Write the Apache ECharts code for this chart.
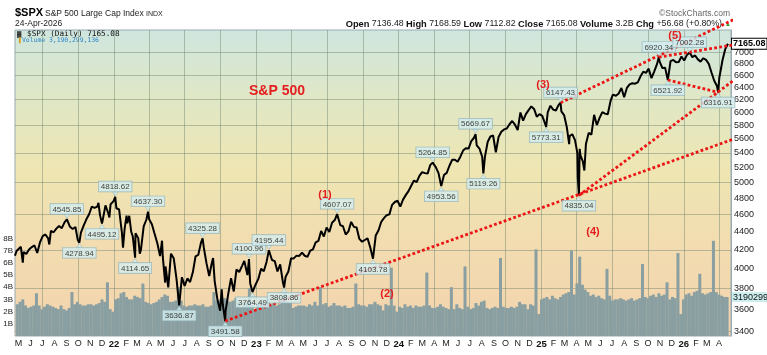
<!DOCTYPE html>
<html><head><meta charset="utf-8">
<script src="https://cdn.jsdelivr.net/npm/echarts@6/dist/echarts.min.js"></script>
<style>html,body{margin:0;padding:0;background:#fff}#c{width:767px;height:355px}</style>
</head><body><div id="c"></div><script>
// ---------- data ----------
const priceData = [
['2021-04-22',4135],['2021-04-26',4187],['2021-04-30',4181],['2021-05-07',4233],['2021-05-12',4063],['2021-05-14',4174],['2021-05-21',4156],['2021-05-28',4204],['2021-06-04',4230],['2021-06-11',4247],['2021-06-18',4166],['2021-06-25',4281],['2021-07-02',4352],['2021-07-09',4370],['2021-07-16',4327],['2021-07-19',4258],['2021-07-23',4411],['2021-07-30',4395],['2021-08-06',4437],['2021-08-13',4468],['2021-08-20',4442],['2021-08-27',4509],['2021-09-02',4545.85],['2021-09-10',4458],['2021-09-17',4433],['2021-09-24',4455],['2021-09-30',4307],['2021-10-04',4278.94],['2021-10-08',4391],['2021-10-15',4471],['2021-10-22',4545],['2021-10-29',4605],['2021-11-05',4697],['2021-11-12',4682],['2021-11-19',4698],['2021-11-22',4743],['2021-11-26',4595],['2021-12-01',4495.12],['2021-12-03',4538],['2021-12-10',4712],['2021-12-17',4620],['2021-12-20',4568],['2021-12-23',4725],['2021-12-31',4766],
['2022-01-04',4818.62],['2022-01-07',4677],['2022-01-14',4662],['2022-01-21',4398],['2022-01-24',4222],['2022-01-28',4432],['2022-02-02',4590],['2022-02-04',4500],['2022-02-09',4587],['2022-02-14',4401],['2022-02-18',4349],['2022-02-24',4114.65],['2022-02-25',4385],['2022-03-04',4329],['2022-03-08',4157],['2022-03-11',4204],['2022-03-18',4463],['2022-03-25',4543],['2022-03-29',4637.30],['2022-04-01',4546],['2022-04-08',4488],['2022-04-14',4393],['2022-04-22',4272],['2022-04-29',4132],['2022-05-04',4300],['2022-05-06',4123],['2022-05-12',3858],['2022-05-13',4023],['2022-05-20',3810],['2022-05-27',4158],['2022-06-03',4109],['2022-06-10',3901],['2022-06-17',3636.87],['2022-06-24',3912],['2022-07-01',3825],['2022-07-08',3899],['2022-07-15',3863],['2022-07-22',3962],['2022-07-29',4130],['2022-08-05',4145],['2022-08-12',4280],['2022-08-16',4325.28],['2022-08-19',4228],['2022-08-26',4057],['2022-09-02',3924],['2022-09-09',4067],['2022-09-12',4110],['2022-09-16',3873],['2022-09-23',3693],['2022-09-30',3586],['2022-10-04',3790],['2022-10-07',3640],['2022-10-13',3491.58],['2022-10-14',3583],['2022-10-21',3752],['2022-10-28',3901],['2022-11-04',3770],['2022-11-11',3992],['2022-11-18',3965],['2022-11-25',4026],['2022-12-01',4080],['2022-12-09',3934],['2022-12-13',4100.96],['2022-12-16',3852],['2022-12-22',3764.49],['2022-12-30',3839],
['2023-01-06',3895],['2023-01-13',3999],['2023-01-20',3972],['2023-01-27',4070],['2023-02-02',4195.44],['2023-02-10',4090],['2023-02-17',4079],['2023-02-24',3970],['2023-03-03',4045],['2023-03-10',3861],['2023-03-13',3808.86],['2023-03-17',3917],['2023-03-24',3970],['2023-03-31',4109],['2023-04-06',4105],['2023-04-14',4137],['2023-04-21',4133],['2023-04-28',4169],['2023-05-05',4136],['2023-05-12',4124],['2023-05-19',4191],['2023-05-26',4205],['2023-06-02',4282],['2023-06-09',4298],['2023-06-16',4409],['2023-06-23',4348],['2023-06-30',4450],['2023-07-07',4398],['2023-07-14',4505],['2023-07-21',4536],['2023-07-27',4607.07],['2023-08-04',4478],['2023-08-11',4464],['2023-08-18',4370],['2023-08-25',4405],['2023-09-01',4515],['2023-09-08',4457],['2023-09-15',4450],['2023-09-22',4320],['2023-09-29',4288],['2023-10-06',4308],['2023-10-13',4327],['2023-10-20',4224],['2023-10-27',4103.78],['2023-11-03',4358],['2023-11-10',4415],['2023-11-17',4514],['2023-11-24',4559],['2023-12-01',4594],['2023-12-08',4604],['2023-12-15',4719],['2023-12-22',4754],['2023-12-29',4769],
['2024-01-05',4697],['2024-01-12',4783],['2024-01-19',4839],['2024-01-26',4890],['2024-02-02',4958],['2024-02-09',5026],['2024-02-16',5005],['2024-02-23',5088],['2024-03-01',5137],['2024-03-08',5123],['2024-03-15',5117],['2024-03-22',5234],['2024-03-28',5264.85],['2024-04-05',5204],['2024-04-12',5123],['2024-04-19',4953.56],['2024-04-26',5099],['2024-05-03',5127],['2024-05-10',5222],['2024-05-17',5303],['2024-05-24',5304],['2024-05-31',5277],['2024-06-07',5346],['2024-06-14',5431],['2024-06-21',5464],['2024-06-28',5460],['2024-07-05',5567],['2024-07-12',5615],['2024-07-16',5669.67],['2024-07-19',5505],['2024-07-26',5459],['2024-08-02',5346],['2024-08-05',5119.26],['2024-08-09',5344],['2024-08-16',5554],['2024-08-23',5634],['2024-08-30',5648],['2024-09-06',5408],['2024-09-13',5626],['2024-09-20',5702],['2024-09-27',5738],['2024-10-04',5751],['2024-10-11',5815],['2024-10-18',5864],['2024-10-25',5808],['2024-11-01',5729],['2024-11-08',5995],['2024-11-15',5870],['2024-11-22',5969],['2024-11-29',6032],['2024-12-06',6090],['2024-12-13',6051],['2024-12-20',5930],['2024-12-27',5970],
['2025-01-03',5942],['2025-01-10',5827],['2025-01-13',5773.31],['2025-01-17',5997],['2025-01-24',6101],['2025-01-31',6040],['2025-02-07',6026],['2025-02-14',6115],['2025-02-19',6147.43],['2025-02-21',6013],['2025-02-28',5955],['2025-03-07',5770],['2025-03-13',5522],['2025-03-14',5639],['2025-03-21',5667],['2025-03-28',5581],['2025-04-03',5396],['2025-04-04',5074],['2025-04-07',4835.04],['2025-04-09',5456],['2025-04-11',5363],['2025-04-17',5283],['2025-04-21',5158],['2025-04-25',5525],['2025-05-02',5686],['2025-05-09',5660],['2025-05-16',5958],['2025-05-23',5803],['2025-05-30',5912],['2025-06-06',6000],['2025-06-13',5977],['2025-06-20',5967],['2025-06-27',6173],['2025-07-03',6279],['2025-07-11',6260],['2025-07-18',6297],['2025-07-25',6389],['2025-08-01',6238],['2025-08-08',6389],['2025-08-15',6449],['2025-08-22',6467],['2025-08-29',6460],['2025-09-05',6482],['2025-09-12',6584],['2025-09-19',6664],['2025-09-26',6644],['2025-10-03',6716],['2025-10-10',6553],['2025-10-17',6664],['2025-10-24',6791],['2025-10-29',6920.34],['2025-10-31',6840],['2025-11-07',6728],['2025-11-14',6734],['2025-11-21',6521.92],['2025-11-28',6849],['2025-12-05',6870],['2025-12-12',6827],['2025-12-19',6834],['2025-12-26',6930],
['2026-01-02',6860],['2026-01-09',6960],['2026-01-16',7002.28],['2026-01-23',6920],['2026-01-30',6950],['2026-02-06',6880],['2026-02-13',6840],['2026-02-20',6900],['2026-02-27',6870],['2026-03-06',6800],['2026-03-13',6650],['2026-03-20',6510],['2026-03-27',6420],['2026-03-30',6316.91],['2026-04-02',6560],['2026-04-07',6740],['2026-04-10',6860],['2026-04-17',7060],['2026-04-24',7165.08]
];
// weekly volume (billions), first week ending 2021-04-30
const volStart = '2021-04-30';
const volumeB = [
2.6,2.8,3.0,2.5,2.3, 2.4,2.5,3.5,2.5, 2.2,2.4,2.6,2.5,2.4, 2.3,2.2,2.5,2.2, 2.1,2.3,3.6,2.6, 2.8,2.6,2.5,2.5,2.6, 2.6,2.5,2.6,2.7, 3.0,2.8,4.4,2.2,2.0,
3.0,3.1,3.5,3.6, 3.2,3.0,3.0,3.3, 3.2,3.1,4.3,2.8, 2.7,2.6,2.7,2.8,3.0, 3.2,3.4,3.3,2.8, 2.8,2.9,4.0,2.9, 2.5,2.4,2.5,2.5,2.6, 2.5,2.5,2.6,2.4, 2.4,2.5,3.6,2.9,3.0, 2.9,3.1,2.9,2.8, 2.9,3.1,2.7,2.4, 2.8,2.7,3.9,2.5,2.2,
2.6,2.5,2.8,2.6, 2.8,2.6,2.7,2.5, 2.6,2.9,3.6,2.8,2.7, 2.3,2.4,2.5,2.5, 2.5,2.4,2.6,2.5, 2.8,2.5,4.0,2.6,2.7, 2.4,2.5,2.7,2.5, 2.5,2.4,2.5,2.3, 2.3,2.4,4.3,2.6,2.5, 2.5,2.4,2.6,2.6, 2.8,2.6,2.5,2.1, 2.6,2.5,5.6,2.5,2.0,
2.4,2.3,2.6,2.4, 2.5,2.3,2.5,2.4, 2.4,2.5,5.2,2.5,2.3, 2.3,2.4,2.6,2.4, 2.3,2.2,4.0,2.2,2.6, 2.3,2.2,5.7,2.4, 2.2,2.3,2.7,2.5, 2.8,2.9,2.3,2.2,2.3, 2.4,2.3,6.4,2.4, 2.3,2.3,2.4,2.3, 2.4,2.8,2.6,2.6,2.2, 2.6,2.5,7.1,1.8,
3.0,3.1,3.2,3.0,3.3, 3.1,3.0,3.2,3.4, 3.5,3.6,7.0,3.4, 4.3,6.5,4.2,3.8, 3.6,3.3,3.4,3.2,3.3, 3.1,3.0,5.5,3.3, 2.9,3.0,3.0,3.1, 3.0,2.9,3.0,3.1,2.9, 3.0,3.1,5.9,3.2, 3.1,3.3,3.4,3.2,3.5, 3.3,3.4,4.4,3.0, 3.2,3.1,6.8,1.8,
3.0,3.4,3.5,3.3,3.6, 3.7,5.1,3.5,3.4, 3.5,3.6,7.8,3.6, 3.4,3.3,3.2,3.2
];
const annHighs = [['2021-09-02',4545.85],['2022-01-04',4818.62],['2022-03-29',4637.30],['2022-08-16',4325.28],['2022-12-13',4100.96],['2023-02-02',4195.44],['2023-07-27',4607.07],['2024-03-28',5264.85],['2024-07-16',5669.67],['2025-02-19',6147.43],['2025-10-29',6920.34],['2026-01-16',7002.28]];
const annLows = [['2021-10-04',4278.94],['2021-12-01',4495.12],['2022-02-24',4114.65],['2022-06-17',3636.87],['2022-10-13',3491.58],['2022-12-22',3764.49],['2023-03-13',3808.86],['2023-10-27',4103.78],['2024-04-19',4953.56],['2024-08-05',5119.26],['2025-01-13',5773.31],['2025-04-07',4835.04],['2025-11-21',6521.92],['2026-03-30',6316.91]];
const trendLines = [
 [['2022-10-13',3491.58],['2026-08-06',5780]],
 [['2025-04-07',4835.04],['2026-06-15',6700]],
 [['2025-02-19',6147.43],['2026-05-28',7700]],
 [['2025-10-29',6920.34],['2026-08-06',7250]],
 [['2025-11-21',6521.92],['2026-03-30',6316.91]]
];
const priceTicks = [3400,3600,3800,4000,4200,4400,4600,4800,5000,5200,5400,5600,5800,6000,6200,6400,6600,6800,7000];
const priceGrid = [3400,3800,4200,4600,5000,5400,5800,6200,6600,7000];
const volTicks = [1,2,3,4,5,6,7,8];
const monthLetters = ['J','F','M','A','M','J','J','A','S','O','N','D'];
const lastClose = 7165.08, lastVolB = 3.190299;

// ---------- build ----------
const DAY = 864e5;
const ts = s => Date.UTC(+s.slice(0,4), +s.slice(5,7)-1, +s.slice(8,10));
const monthTicks = [], quarterTicks = [];
for (let y = 2021; y <= 2026; y++) for (let m = 0; m < 12; m++) {
  const t = Date.UTC(y, m, 1);
  if (t < ts('2021-05-01') || t > ts('2026-04-01')) continue;
  monthTicks.push(t);
  if (m % 3 === 0) quarterTicks.push(t);
}
const volStartT = ts(volStart);
const chart = echarts.init(document.getElementById('c'));
const lbl = {fontSize:8, fontFamily:'Liberation Sans, Arial, sans-serif', color:'#111', backgroundColor:'#d4eef0', borderColor:'#8fb0b6', borderWidth:0.7, padding:[1,2,0,2], lineHeight:9, formatter: p => p.value[1].toFixed(2)};
const gridColor = 'rgba(110,130,110,0.45)';
const series = [
  {type:'bar', yAxisIndex:1, barWidth:3, z:2, itemStyle:{color:'#899fa1'},
   data: volumeB.map((v,i) => [volStartT + i*7*DAY - 2*DAY, v]),
   markLine:{silent:true, symbol:'none', lineStyle:{width:0, color:'rgba(0,0,0,0)'}, data:[{yAxis:lastVolB}],
     label:{show:true, position:'end', distance:1, formatter:'3190299', fontSize:9, fontFamily:'Liberation Sans, Arial', color:'#111', backgroundColor:'#cdeeee', padding:[1,1,0,1]}}},
  {type:'line', yAxisIndex:0, symbol:'none', z:5, lineStyle:{color:'#000', width:2},
   data: priceData.map(d => [ts(d[0]), d[1]]),
   markLine:{silent:true, symbol:'none', lineStyle:{width:0, color:'rgba(0,0,0,0)'}, data:[{yAxis:lastClose}],
     label:{show:true, position:'end', distance:1, formatter:'7165.08', fontSize:9, fontWeight:'bold', fontFamily:'Liberation Sans, Arial', color:'#000', backgroundColor:'#fff', borderColor:'#000', borderWidth:1, padding:[1,1,0,1]}}}
];
trendLines.forEach(l => series.push({type:'line', yAxisIndex:0, symbol:'none', clip:false, z:6,
  lineStyle:{color:'#ec1414', width:2.8, type:[2.8,2.3]}, data: l.map(d => [ts(d[0]), d[1]])}));
series.push({type:'scatter', yAxisIndex:0, z:7, symbol:'triangle', symbolSize:[6,4], symbolRotate:180, symbolOffset:[0,-3],
  itemStyle:{color:'#d4eef0', borderColor:'#8fb0b6', borderWidth:0.6},
  label:Object.assign({show:true, position:'top', distance:0}, lbl), data: annHighs.map(d => [ts(d[0]), d[1]])});
series.push({type:'scatter', yAxisIndex:0, z:7, symbol:'triangle', symbolSize:[6,4], symbolOffset:[0,3],
  itemStyle:{color:'#d4eef0', borderColor:'#8fb0b6', borderWidth:0.6},
  label:Object.assign({show:true, position:'bottom', distance:0}, lbl), data: annLows.map(d => [ts(d[0]), d[1]])});

const F = 'Liberation Sans, Arial, sans-serif';
const red = '#e41e1e';
const graphic = [
  {type:'text', x:15, y:13, style:{text:'$SPX', font:'bold 11px '+F, fill:'#000', verticalAlign:'middle'}},
  {type:'text', x:45, y:13.5, style:{text:'S&P 500 Large Cap Index', font:'8.5px '+F, fill:'#222', verticalAlign:'middle'}},
  {type:'text', x:146, y:14, style:{text:'INDX', font:'7px '+F, fill:'#222', verticalAlign:'middle'}},
  {type:'text', x:15, y:24, style:{text:'24-Apr-2026', font:'8.5px '+F, fill:'#222', verticalAlign:'middle'}},
  {type:'text', x:730, y:13.5, style:{text:'©StockCharts.com', font:'8.5px '+F, fill:'#666', align:'right', verticalAlign:'middle'}},
  {type:'text', x:722, y:24, style:{text:'{b|Open} 7136.48 {b|High} 7168.59 {b|Low} 7112.82 {b|Close} 7165.08 {b|Volume} 3.2B {b|Chg} +56.68 (+0.80%)',
     font:'8.8px '+F, fill:'#222', align:'right', verticalAlign:'middle', rich:{b:{font:'bold 9.3px '+F, fill:'#111'}}}},
  {type:'text', x:728, y:24, style:{text:'▲', font:'6px '+F, fill:'#2a9d2a', align:'center', verticalAlign:'middle'}},
  {type:'text', x:17, y:34, style:{text:'\u2593', font:'6px '+F, fill:'#111', verticalAlign:'middle'}},
  {type:'text', x:27, y:34, style:{text:'$SPX (Daily) 7165.08', font:'7.7px DejaVu Sans Mono, monospace', fill:'#111', verticalAlign:'middle'}},
  {type:'text', x:17, y:40.5, style:{text:'\u2590', font:'5px '+F, fill:'#d4a020', verticalAlign:'middle'}},
  {type:'text', x:22, y:40.5, style:{text:'Volume 3,190,299,136', font:'6.4px DejaVu Sans Mono, monospace', fill:'#2e86c8', verticalAlign:'middle'}},
  {type:'text', x:277, y:91, z:10, style:{text:'S&P 500', font:'bold 14px '+F, fill:red, align:'center', verticalAlign:'middle'}},
  {type:'text', x:325, y:195, z:10, style:{text:'(1)', font:'bold 11px '+F, fill:red, align:'center', verticalAlign:'middle'}},
  {type:'text', x:387, y:294, z:10, style:{text:'(2)', font:'bold 11px '+F, fill:red, align:'center', verticalAlign:'middle'}},
  {type:'text', x:543, y:85, z:10, style:{text:'(3)', font:'bold 11px '+F, fill:red, align:'center', verticalAlign:'middle'}},
  {type:'text', x:593, y:232, z:10, style:{text:'(4)', font:'bold 11px '+F, fill:red, align:'center', verticalAlign:'middle'}},
  {type:'text', x:675, y:36, z:10, style:{text:'(5)', font:'bold 11px '+F, fill:red, align:'center', verticalAlign:'middle'}}
];

chart.setOption({
  animation:false,
  textStyle:{fontFamily:F},
  grid:{left:15, right:36, top:30, bottom:19, show:true, borderColor:'#9aaab2', borderWidth:1,
    backgroundColor:new echarts.graphic.LinearGradient(0,0,0,1,[
      {offset:0, color:'#cfe6de'},{offset:0.22, color:'#dfe7c6'},{offset:0.45, color:'#eee6b3'},
      {offset:0.7, color:'#f2dcb0'},{offset:1, color:'#f3d3ae'}])},
  xAxis:{type:'value', min:ts('2021-04-22'), max:ts('2026-05-02'),
    axisLine:{show:false}, axisTick:{show:false, customValues:quarterTicks},
    splitLine:{show:true, lineStyle:{color:gridColor, width:1}},
    axisLabel:{customValues:monthTicks, fontSize:9, color:'#222', margin:3,
      formatter: v => { const d = new Date(v); const m = d.getUTCMonth();
        return m === 0 ? '{y|' + String(d.getUTCFullYear()).slice(2) + '}' : monthLetters[m]; },
      rich:{y:{fontWeight:'bold', fontSize:9.5, color:'#111'}}}},
  yAxis:[
    {type:'log', position:'right', min:3359, max:7424,
     axisLine:{show:true, lineStyle:{color:'#9aaab2'}}, axisTick:{show:false, customValues:priceGrid},
     splitLine:{show:true, lineStyle:{color:gridColor, width:1}},
     axisLabel:{customValues:priceTicks, fontSize:9, color:'#222', margin:3, formatter: v => String(Math.round(v))}},
    {type:'value', position:'left', min:0, max:25.08,
     axisLine:{show:false}, axisTick:{show:false}, splitLine:{show:false},
     axisLabel:{customValues:volTicks, fontSize:8, color:'#222', margin:2, formatter: v => Math.round(v) + 'B'}}
  ],
  series: series,
  graphic: graphic
});
</script></body></html>
